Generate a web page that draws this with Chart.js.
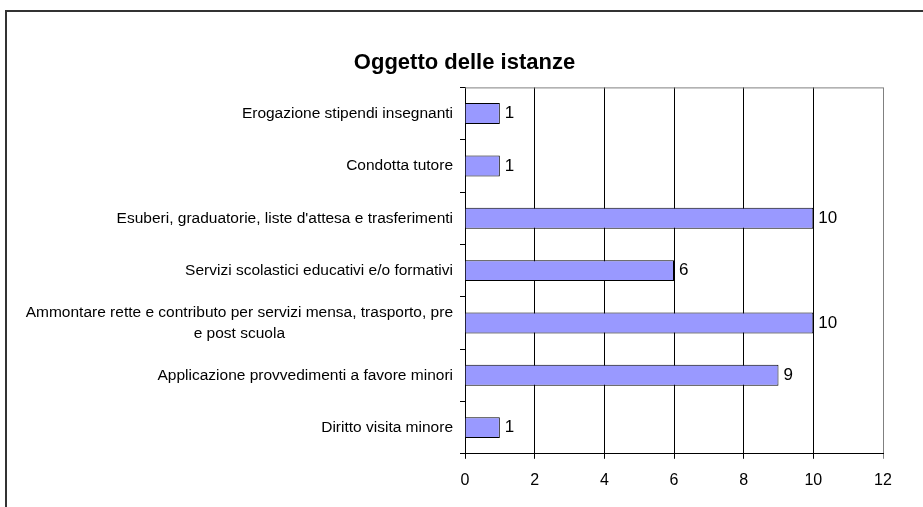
<!DOCTYPE html>
<html>
<head>
<meta charset="utf-8">
<script src="https://cdn.jsdelivr.net/npm/chart.js@4/dist/chart.umd.min.js"></script>
<style>
  html, body { margin: 0; padding: 0; background: #fff; }
  canvas { display: block; }
</style>
</head>
<body>
<canvas id="barChart" width="923" height="507"></canvas>
<script>
const categories = [
  "Erogazione stipendi insegnanti",
  "Condotta tutore",
  "Esuberi, graduatorie, liste d'attesa e trasferimenti",
  "Servizi scolastici educativi e/o formativi",
  ["Ammontare rette e contributo per servizi mensa, trasporto, pre", "e post scuola"],
  "Applicazione provvedimenti a favore minori",
  "Diritto visita minore",
];
const values = [1, 1, 10, 6, 10, 9, 1];
const xMin = 0;
const xMax = 12;
const xStep = 2;
const chartTitle = "Oggetto delle istanze";

const FONT = '"Liberation Sans", Arial, sans-serif';

let barctx = document.getElementById("barChart").getContext("2d");

// frame round the chart + gray top border of the plot area
const framePlugin = {
  id: "frame",
  beforeDraw: (chart) => {
    const ctx = chart.ctx;
    ctx.save();
    ctx.fillStyle = "#fff";
    ctx.fillRect(0, 0, chart.width, chart.height);
    ctx.strokeStyle = "#333";
    ctx.lineWidth = 2;
    ctx.strokeRect(6, 11, 1000, 1000);
    ctx.restore();
  },
  afterDraw: (chart) => {
    const ctx = chart.ctx;
    const area = chart.chartArea;
    ctx.save();
    ctx.strokeStyle = "#808080";
    ctx.lineWidth = 1;
    ctx.beginPath();
    ctx.moveTo(area.left, area.top + 0.5);
    ctx.lineTo(area.right, area.top + 0.5);
    ctx.stroke();
    ctx.restore();
  },
};

// category labels: right aligned block, extra lines centred like Excel does
const categoryLabels = {
  id: "category-labels",
  afterDraw: (chart) => {
    const ctx = chart.ctx;
    const yScale = chart.scales.y;
    const right = chart.chartArea.left - 12;
    ctx.save();
    ctx.font = "15.5px " + FONT;
    ctx.fillStyle = "#000";
    ctx.textBaseline = "middle";
    ctx.textAlign = "center";
    chart.data.labels.forEach((label, i) => {
      const lines = [].concat(label);
      const cy = yScale.getPixelForValue(i);
      const w = Math.max(...lines.map((l) => ctx.measureText(l).width));
      lines.forEach((l, j) => {
        ctx.fillText(l, right - w / 2, cy + (j - (lines.length - 1) / 2) * 21);
      });
    });
    ctx.restore();
  },
};

// value labels at bar ends
const valueLabels = {
  id: "value-labels",
  afterDatasetsDraw: (chart) => {
    const ctx = chart.ctx;
    const meta = chart.getDatasetMeta(0);
    ctx.save();
    ctx.font = "17px " + FONT;
    ctx.fillStyle = "#000";
    ctx.textAlign = "left";
    ctx.textBaseline = "middle";
    meta.data.forEach((bar, i) => {
      ctx.fillText(String(chart.data.datasets[0].data[i]), bar.x + 5, bar.y);
    });
    ctx.restore();
  },
};

let barChart = new Chart(barctx, {
  type: "bar",
  data: {
    labels: categories,
    datasets: [
      {
        data: values,
        backgroundColor: "#9999FF",
        borderColor: "#000",
        borderWidth: 1,
        barPercentage: 0.4,
        categoryPercentage: 1.0,
      },
    ],
  },
  options: {
    indexAxis: "y",
    responsive: false,
    animation: false,
    layout: {
      padding: { left: 46, right: 40, top: 50, bottom: 5 },
    },
    scales: {
      x: {
        min: xMin,
        max: xMax,
        ticks: {
          stepSize: xStep,
          color: "#000",
          padding: 12,
          font: { family: FONT, size: 16 },
        },
        grid: {
          color: (c) => (c.tick && c.tick.value === xMax ? "#808080" : "#000"),
          tickLength: 5,
        },
        border: { color: "#000", width: 1 },
      },
      y: {
        ticks: { display: false },
        grid: {
          drawOnChartArea: false,
          offset: true,
          tickLength: 5,
          color: "#000",
        },
        border: { color: "#000", width: 1 },
        afterFit: (scale) => {
          scale.width = 419;
        },
      },
    },
    plugins: {
      legend: { display: false },
      tooltip: { enabled: false },
      title: {
        display: true,
        text: chartTitle,
        color: "#000",
        font: { family: FONT, size: 22, weight: "bold", lineHeight: 1.2 },
        padding: { top: 0, bottom: 11 },
      },
    },
  },
  plugins: [framePlugin, categoryLabels, valueLabels],
});
</script>
</body>
</html>
